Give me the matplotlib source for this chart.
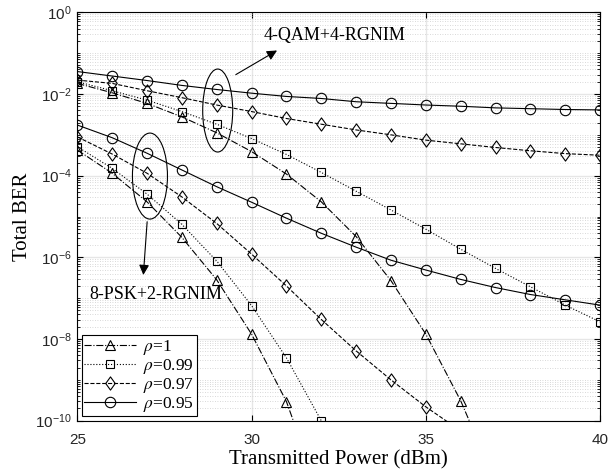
import numpy as np
import matplotlib
matplotlib.use('Agg')
import matplotlib.pyplot as plt
from matplotlib.patches import Ellipse
from matplotlib.path import Path
from matplotlib.ticker import LogLocator, NullFormatter, FixedLocator


power = [25, 26, 27, 28, 29, 30, 31, 32, 33, 34, 35, 36, 37, 38, 39, 40]

# 4-QAM+4-RGNIM, log10(BER)
qam_r100 = [-1.74, -1.97, -2.23, -2.56, -2.95, -3.41, -3.96, -4.64, -5.49, -6.57, -7.88, -9.51, -11.5]
qam_r099 = [-1.70, -1.92, -2.15, -2.43, -2.74, -3.09, -3.48, -3.92, -4.38, -4.84, -5.31, -5.80, -6.27, -6.72, -7.17, -7.58]
qam_r097 = [-1.66, -1.74, -1.92, -2.09, -2.27, -2.43, -2.60, -2.74, -2.88, -3.00, -3.13, -3.22, -3.31, -3.39, -3.46, -3.50]
qam_r095 = [-1.45, -1.56, -1.67, -1.79, -1.89, -1.98, -2.06, -2.11, -2.19, -2.23, -2.27, -2.30, -2.34, -2.36, -2.38, -2.39]

# 8-PSK+2-RGNIM, log10(BER)
psk_r100 = [-3.37, -3.94, -4.64, -5.51, -6.55, -7.88, -9.53, -11.9]
psk_r099 = [-3.29, -3.82, -4.45, -5.19, -6.09, -7.18, -8.46, -10.0]
psk_r097 = [-3.05, -3.47, -3.94, -4.52, -5.17, -5.92, -6.70, -7.52, -8.29, -9.00, -9.66, -10.25]
psk_r095 = [-2.76, -3.07, -3.45, -3.86, -4.27, -4.65, -5.04, -5.41, -5.75, -6.07, -6.31, -6.54, -6.74, -6.91, -7.04, -7.17]

labels = [r'$\rho$=1', r'$\rho$=0.99', r'$\rho$=0.97', r'$\rho$=0.95']
# matlab-like tall diamond
diamond = Path([(0, 1), (0.72, 0), (0, -1), (-0.72, 0), (0, 1)],
               [Path.MOVETO, Path.LINETO, Path.LINETO, Path.LINETO, Path.CLOSEPOLY])
markers = ['^', 's', diamond, 'o']
styles = ['-.', ':', '--', '-']
msizes = [7.5, 5.5, 9.5, 7.5]

plt.rcParams['mathtext.fontset'] = 'stix'

fig = plt.figure(figsize=(6.1, 4.7), dpi=100)
ax = fig.add_axes([0.1267, 0.1049, 0.857, 0.8689])

for g, group in enumerate([[qam_r100, qam_r099, qam_r097, qam_r095],
                           [psk_r100, psk_r099, psk_r097, psk_r095]]):
    for i, vals in enumerate(group):
        x = power[:len(vals)]
        y = 10.0 ** np.array(vals)
        ax.semilogy(x, y, linestyle=styles[i], color='black', linewidth=0.8,
                    marker=markers[i], markersize=msizes[i],
                    markerfacecolor='none', markeredgecolor='black', markeredgewidth=0.8,
                    label=labels[i] if g == 1 else None)

ax.set_xlim(25, 40)
ax.set_ylim(1e-10, 1e0)
ax.xaxis.set_major_locator(FixedLocator([25, 30, 35, 40]))
ax.yaxis.set_major_locator(FixedLocator([1e0, 1e-2, 1e-4, 1e-6, 1e-8, 1e-10]))
ax.yaxis.set_minor_locator(LogLocator(base=10, subs=np.arange(1, 10), numticks=30))
ax.yaxis.set_minor_formatter(NullFormatter())

ax.grid(True, which='major', color='#e6e6e6', linewidth=1.0, linestyle='-')
ax.grid(True, which='minor', axis='y', color='#cccccc', linewidth=0.6, linestyle=(0, (1, 2)))
ax.set_axisbelow(True)

ax.tick_params(which='both', direction='in', top=True, right=True, labelsize=11)
ax.tick_params(which='major', length=4)
ax.tick_params(which='minor', length=2)
ax.tick_params(axis='x', pad=9)
ax.tick_params(axis='y', pad=4)
for lbl in ax.get_xticklabels() + ax.get_yticklabels():
    lbl.set_family('Liberation Sans')
    lbl.set_color('#262626')

ax.set_xlabel('Transmitted Power (dBm)', family='Liberation Serif', fontsize=15, labelpad=2)
ax.set_ylabel('Total BER', family='Liberation Serif', fontsize=15, labelpad=2)

leg = ax.legend(loc='lower left', prop={'family': 'Liberation Serif', 'size': 12.5},
                fancybox=False, edgecolor='black', framealpha=1, borderpad=0.15,
                labelspacing=0.0, handlelength=3.0, handletextpad=0.4, borderaxespad=0.25)
leg.get_frame().set_linewidth(0.8)

# group annotations
ax.add_patch(Ellipse((0.2686, 0.7595), 0.0574, 0.2032, transform=ax.transAxes,
                     fill=False, edgecolor='black', linewidth=0.8))
ax.add_patch(Ellipse((0.139, 0.599), 0.067, 0.2106, transform=ax.transAxes,
                     fill=False, edgecolor='black', linewidth=0.8))
ax.annotate('', xy=(30.8, 10 ** -0.9), xytext=(29.48, 10 ** -1.56),
            arrowprops=dict(arrowstyle='-|>', color='black', lw=0.8, mutation_scale=15))
ax.annotate('', xy=(26.89, 10 ** -6.5), xytext=(27.01, 10 ** -5.06),
            arrowprops=dict(arrowstyle='-|>', color='black', lw=0.8, mutation_scale=15))
ax.text(30.35, 10 ** -0.556, '4-QAM+4-RGNIM', family='Liberation Serif', fontsize=13,
        va='center', ha='left')
ax.text(25.34, 10 ** -6.92, '8-PSK+2-RGNIM', family='Liberation Serif', fontsize=13,
        va='center', ha='left')

fig.savefig('out.png', dpi=100)
